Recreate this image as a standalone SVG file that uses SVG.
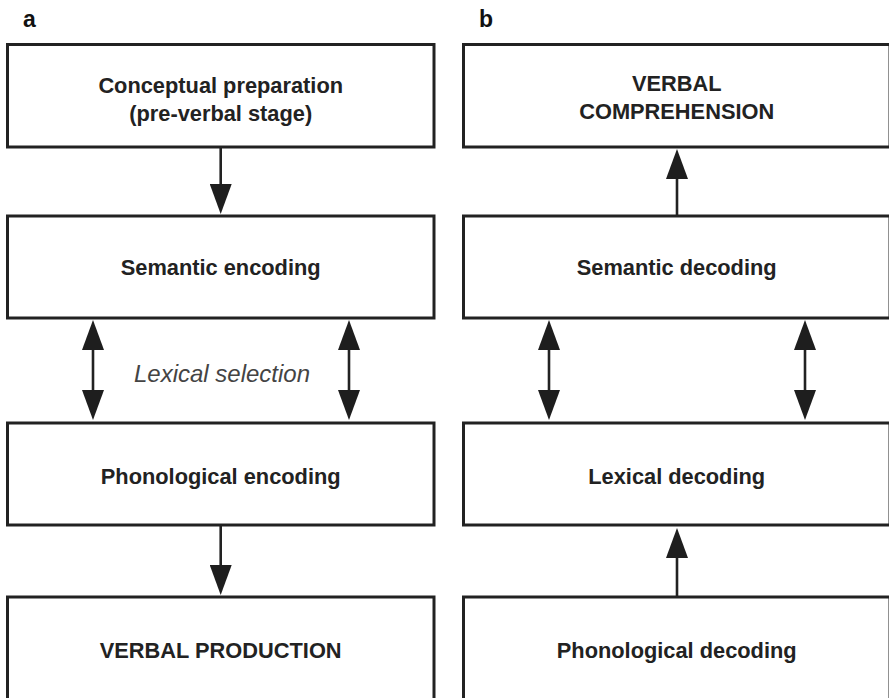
<svg xmlns="http://www.w3.org/2000/svg" width="889" height="698" viewBox="0 0 889 698">
<style>
.box{fill:#fff;stroke:#222;stroke-width:3}
.t{font-family:"Liberation Sans",Arial,sans-serif;font-weight:bold;font-size:21.8px;fill:#222;text-anchor:middle}
.lab{font-family:"Liberation Sans",Arial,sans-serif;font-weight:bold;font-size:23px;fill:#111}
.it{font-family:"Liberation Sans",Arial,sans-serif;font-style:italic;font-size:24px;fill:#444;text-anchor:middle}
.c{stroke:#222;stroke-width:2.6;fill:none}
</style>
<defs>
<marker id="ah" viewBox="0 0 30 22" refX="22" refY="11" markerWidth="30" markerHeight="22" markerUnits="userSpaceOnUse" orient="auto-start-reverse">
<path d="M0,0 L30,11 L0,22 z" fill="#1e1e1e"/>
</marker>
</defs>
<rect width="889" height="698" fill="#fff"/>
<text class="lab" x="23" y="27">a</text>
<text class="lab" x="479" y="27">b</text>
<g id="a1"><rect class="box" x="7.5" y="44.5" width="426.5" height="102.5"/><text class="t" x="220.7" y="93">Conceptual preparation</text><text class="t" x="220.7" y="121">(pre-verbal stage)</text></g>
<g id="a2"><rect class="box" x="7.5" y="216" width="426.5" height="102"/><text class="t" x="220.7" y="275">Semantic encoding</text></g>
<g id="a3"><rect class="box" x="7.5" y="423" width="426.5" height="102"/><text class="t" x="220.7" y="484">Phonological encoding</text></g>
<g id="a4"><rect class="box" x="7.5" y="597" width="426.5" height="108"/><text class="t" x="220.7" y="658">VERBAL PRODUCTION</text></g>
<g id="b1"><rect class="box" x="463.5" y="44.5" width="426.5" height="102.5"/><text class="t" x="676.7" y="91">VERBAL</text><text class="t" x="676.7" y="119">COMPREHENSION</text></g>
<g id="b2"><rect class="box" x="463.5" y="216" width="426.5" height="102"/><text class="t" x="676.7" y="275">Semantic decoding</text></g>
<g id="b3"><rect class="box" x="463.5" y="423" width="426.5" height="102"/><text class="t" x="676.7" y="484">Lexical decoding</text></g>
<g id="b4"><rect class="box" x="463.5" y="597" width="426.5" height="108"/><text class="t" x="676.7" y="658">Phonological decoding</text></g>
<text class="it" x="222" y="382">Lexical selection</text>
<g id="connectors">
<line class="c" x1="220.7" y1="147" x2="220.7" y2="206" marker-end="url(#ah)"/>
<line class="c" x1="93" y1="328" x2="93" y2="412" marker-start="url(#ah)" marker-end="url(#ah)"/>
<line class="c" x1="349" y1="328" x2="349" y2="412" marker-start="url(#ah)" marker-end="url(#ah)"/>
<line class="c" x1="220.7" y1="525" x2="220.7" y2="587" marker-end="url(#ah)"/>
<line class="c" x1="677" y1="216" x2="677" y2="157" marker-end="url(#ah)"/>
<line class="c" x1="549" y1="328" x2="549" y2="412" marker-start="url(#ah)" marker-end="url(#ah)"/>
<line class="c" x1="805" y1="328" x2="805" y2="412" marker-start="url(#ah)" marker-end="url(#ah)"/>
<line class="c" x1="677" y1="597" x2="677" y2="536" marker-end="url(#ah)"/>
</g>
</svg>
